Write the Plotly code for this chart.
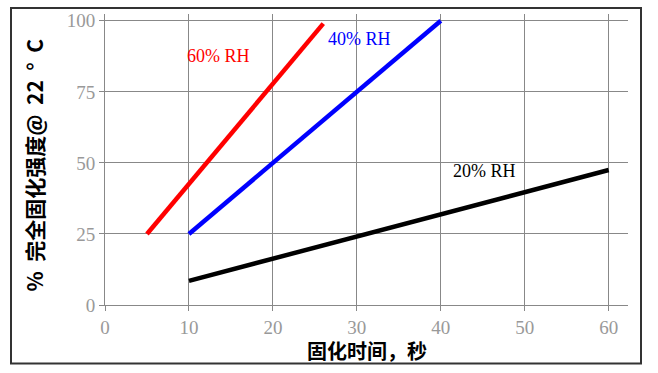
import plotly.graph_objects as go

# Data
rh60_x = [5, 26]
rh60_y = [25, 99]
rh40_x = [10, 40]
rh40_y = [25, 100]
rh20_x = [10, 60]
rh20_y = [8.5, 47.5]
x_ticks = [0, 10, 20, 30, 40, 50, 60]
y_ticks = [0, 25, 50, 75, 100]
labels = ["60% RH", "40% RH", "20% RH"]
label_x = [13.5, 30.3, 45.2]
label_y = [87.5, 93.5, 47]
colors = ["#ff0000", "#0000ff", "#000000"]
x_title = "固化时间，秒"
y_title = "%  完全固化强度@  22  °  C"

W, H = 658, 373
ML, MR, MT, MB = 105, 30, 11, 68
PW, PH = W - ML - MR, H - MT - MB


def px(x):
    return (x - ML) / PW


def py(y):
    return (H - MB - y) / PH


fig = go.Figure()
for xs, ys, c in [(rh60_x, rh60_y, colors[0]), (rh40_x, rh40_y, colors[1]), (rh20_x, rh20_y, colors[2])]:
    fig.add_trace(go.Scatter(x=xs, y=ys, mode="lines", line=dict(color=c, width=4.5), showlegend=False))

for t, x, y, c in zip(labels, label_x, label_y, colors):
    fig.add_annotation(x=x, y=y, text=t, showarrow=False,
                       font=dict(family="Liberation Serif, Noto Sans CJK SC", size=18, color=c))

axis_common = dict(showgrid=True, gridcolor="#888888", gridwidth=1, showline=True,
                   linecolor="#888888", linewidth=1, ticks="outside", ticklen=5,
                   tickcolor="#888888", zeroline=False,
                   tickfont=dict(family="Liberation Serif", size=19, color="#999999"))

fig.update_xaxes(range=[0, 62.3], tickvals=x_ticks, **axis_common)
fig.update_yaxes(range=[0, 102.4], tickvals=y_ticks, **axis_common)

# axis titles
fig.add_annotation(xref="paper", yref="paper", x=px(367), y=py(351),
                   text="<b>" + x_title + "</b>", showarrow=False, xanchor="center", yanchor="middle",
                   borderpad=0,
                   font=dict(family="Noto Sans CJK SC", size=20, color="#000000"))
fig.add_annotation(xref="paper", yref="paper", x=px(34), y=py(164),
                   text="<b>" + y_title + "</b>", showarrow=False, textangle=-90,
                   xanchor="center", yanchor="middle",
                   font=dict(family="Noto Sans CJK SC", size=21, color="#000000"))

# outer frame
fig.add_shape(type="rect", xref="paper", yref="paper",
              x0=px(11), x1=px(641), y0=py(364), y1=py(5),
              line=dict(color="#333333", width=2), layer="below")

fig.update_layout(width=W, height=H, margin=dict(l=ML, r=MR, t=MT, b=MB),
                  plot_bgcolor="white", paper_bgcolor="white")

fig.write_html("out.html")
